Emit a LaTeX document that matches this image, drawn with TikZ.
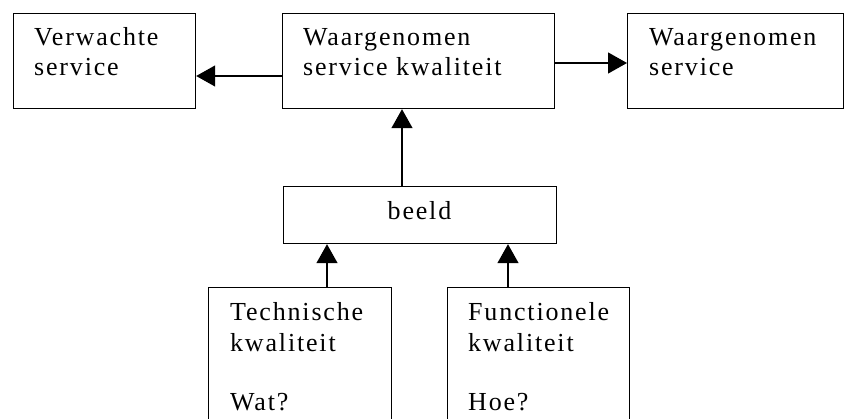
\documentclass[tikz,border=0pt]{standalone}
\usepackage{fontspec}
\setmainfont[LetterSpace=7]{Liberation Serif}
\usetikzlibrary{arrows.meta}
\begin{document}
\begin{tikzpicture}[x=1pt,y=-1pt,
  box/.style={draw=black,line width=1.2pt,rectangle,inner sep=0pt,anchor=north west},
  txt/.style={anchor=base west,inner sep=0pt,font=\fontsize{26}{30}\selectfont},
  arr/.style={draw=black,line width=1.3pt,-{Triangle[width=21pt,length=19pt]}}]
\useasboundingbox (0,0) rectangle (844,419);
\clip (0,0) rectangle (844,419);
% boxes
\node[box,minimum width=182pt,minimum height=95pt] (b1) at (13,13) {};
\node[box,minimum width=272pt,minimum height=95pt] (b2) at (282,13) {};
\node[box,minimum width=215.5pt,minimum height=95pt] (b3) at (627,13) {};
\node[box,minimum width=273pt,minimum height=57pt] (beeld) at (283,186) {};
\node[box,minimum width=183pt,minimum height=160pt] (tech) at (208,287) {};
\node[box,minimum width=182pt,minimum height=160pt] (func) at (447,287) {};
% texts
\node[txt] (t1a) at (34,46) {Verwachte};
\node[txt] (t1b) at (34,76) {service};
\node[txt] (t2a) at (303,46) {Waargenomen};
\node[txt] (t2b) at (303,76) {service kwaliteit};
\node[txt] (t3a) at (649,46) {Waargenomen};
\node[txt] (t3b) at (649,76) {service};
\node[txt,anchor=base] (t4) at (419.5,220) {beeld};
\node[txt] (t5a) at (230,321) {Technische};
\node[txt] (t5b) at (230,352) {kwaliteit};
\node[txt] (t5c) at (230,411) {Wat?};
\node[txt] (t6a) at (468,321) {Functionele};
\node[txt] (t6b) at (468,352) {kwaliteit};
\node[txt] (t6c) at (468,411) {Hoe?};
% connector positions
\coordinate (yl) at (0,76);
\coordinate (yr) at (0,63);
\coordinate (xm) at (402,0);
\coordinate (xa) at (327,0);
\coordinate (xb) at (508,0);
% connectors
\draw[arr] (b2.west |- yl) -- (b1.east |- yl);
\draw[arr] (b2.east |- yr) -- (b3.west |- yr);
\draw[arr] (beeld.north -| xm) -- (b2.south -| xm);
\draw[arr] (tech.north -| xa) -- (beeld.south -| xa);
\draw[arr] (func.north -| xb) -- (beeld.south -| xb);
\end{tikzpicture}
\end{document}
